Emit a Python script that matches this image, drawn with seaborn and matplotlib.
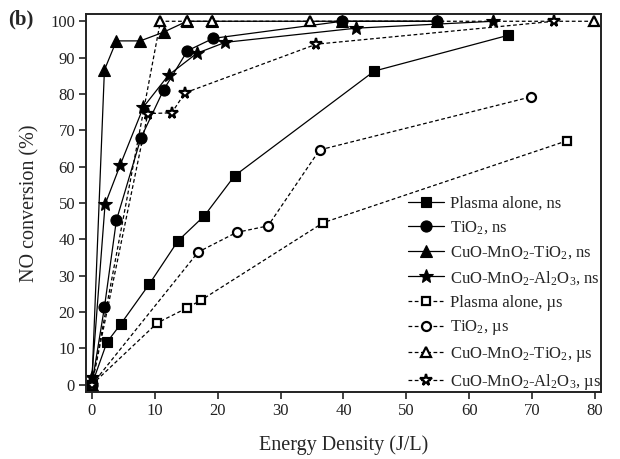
import matplotlib
matplotlib.use("Agg")
import matplotlib.pyplot as plt
import seaborn as sns
import pandas as pd

# --- data ---
plasma_ns_x = [0, 2.4, 4.6, 9.1, 13.7, 17.9, 22.7, 44.9, 66.1]
plasma_ns_y = [0, 11.7, 16.7, 27.6, 39.6, 46.5, 57.5, 86.3, 96.1]

tio2_ns_x = [0, 2.0, 3.9, 7.8, 11.4, 15.2, 19.3, 39.8, 54.8]
tio2_ns_y = [0, 21.3, 45.2, 67.9, 81.1, 91.9, 95.3, 100, 100]

cmt_ns_x = [0, 2.0, 3.9, 7.7, 11.4, 15.1, 19.1, 39.8, 54.8]
cmt_ns_y = [0, 86.6, 94.6, 94.6, 97.0, 100, 100, 100, 100]

cma_ns_x = [0, 2.1, 4.5, 8.2, 12.2, 16.7, 21.2, 42.0, 63.8]
cma_ns_y = [2, 49.6, 60.4, 76.4, 85.2, 91.2, 94.2, 98.1, 100]

plasma_us_x = [0, 10.4, 15.1, 17.4, 36.8, 75.5]
plasma_us_y = [0, 17.0, 21.1, 23.3, 44.6, 67.1]

tio2_us_x = [0, 16.9, 23.0, 28.0, 36.2, 69.8]
tio2_us_y = [0, 36.5, 41.9, 43.7, 64.6, 79.2]

cmt_us_x = [0, 10.9, 15.1, 19.1, 34.7, 79.9]
cmt_us_y = [0, 100, 100, 100, 100, 100]

cma_us_x = [0, 8.9, 12.7, 14.8, 35.7, 73.5]
cma_us_y = [0, 74.6, 74.8, 80.3, 93.7, 100]

labels = [
    "Plasma alone, ns",
    "TiO$_2$, ns",
    "CuO-MnO$_2$-TiO$_2$, ns",
    "CuO-MnO$_2$-Al$_2$O$_3$, ns",
    "Plasma alone, \u00b5s",
    "TiO$_2$, \u00b5s",
    "CuO-MnO$_2$-TiO$_2$, \u00b5s",
    "CuO-MnO$_2$-Al$_2$O$_3$, \u00b5s",
]
xs = [plasma_ns_x, tio2_ns_x, cmt_ns_x, cma_ns_x, plasma_us_x, tio2_us_x, cmt_us_x, cma_us_x]
ys = [plasma_ns_y, tio2_ns_y, cmt_ns_y, cma_ns_y, plasma_us_y, tio2_us_y, cmt_us_y, cma_us_y]

markers = ["s", "o", "^", "*", "s", "o", "^", "*"]
msizes = [7, 8, 8, 10, 5.5, 6.5, 7, 8.5]

sns.set_style("ticks")
plt.rcParams["font.family"] = ["Liberation Serif", "DejaVu Serif"]
plt.rcParams["mathtext.default"] = "regular"

fig = plt.figure(figsize=(6.2, 4.59), dpi=100)
ax = fig.add_axes([0.139, 0.146, 0.830, 0.8235])

for i, (lab, x, y) in enumerate(zip(labels, xs, ys)):
    df = pd.DataFrame({"x": x, "y": y})
    dashed = i >= 4
    sns.lineplot(
        data=df, x="x", y="y", ax=ax, sort=False, estimator=None,
        color="black", linewidth=0.9,
        linestyle=(0, (3, 2)) if dashed else "-",
        marker=markers[i], markersize=msizes[i],
        markerfacecolor="white" if dashed else "black",
        markeredgecolor="black", markeredgewidth=1.6 if dashed else 0.8,
        label=lab,
    )

ax.set_xlim(-0.9, 80.9)
ax.set_ylim(-2, 102)
ax.set_xticks(range(0, 81, 10))
ax.set_yticks(range(0, 101, 10))
ax.tick_params(axis="both", direction="out", length=5, width=1.2,
               labelsize=12, colors="#222222", pad=3)
for s in ax.spines.values():
    s.set_linewidth(1.4)
    s.set_color("#222222")

ax.set_xlabel("Energy Density (J/L)", fontsize=14.5, labelpad=12)
ax.set_ylabel("NO conversion (%)", fontsize=14.5, labelpad=8)

ax.legend(loc="upper left", bbox_to_anchor=(0.625, 0.519), frameon=False,
          fontsize=12, handlelength=2.2, handletextpad=0.35,
          labelspacing=0.47, borderpad=0, borderaxespad=0)

fig.text(0.013, 0.958, "(b)", fontsize=15, fontweight="bold", va="center")

fig.savefig("out.png", dpi=100)
